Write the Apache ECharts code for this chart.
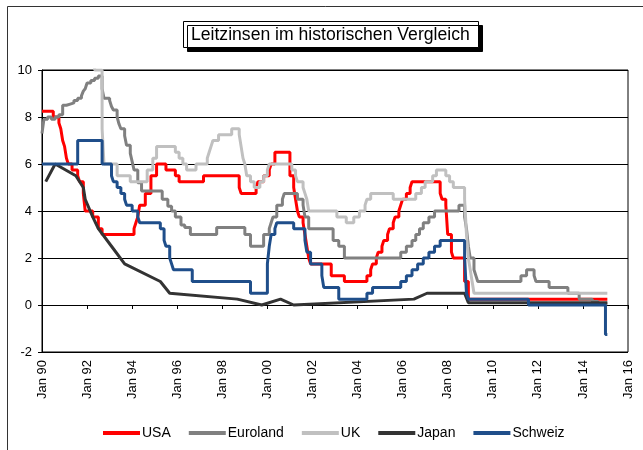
<!DOCTYPE html>
<html lang="de">
<head>
<meta charset="UTF-8">
<title>Leitzinsen im historischen Vergleich</title>
<script src="https://cdn.jsdelivr.net/npm/echarts@6/dist/echarts.min.js"></script>
<style>
  html, body { margin: 0; padding: 0; background: #fff; }
  #main { width: 643px; height: 450px; }
</style>
</head>
<body>
<div id="main"></div>
<script>
// Leitzinsen, Wertänderungen als [Monat, Zins in %]
const usa = [
  ['1990-01', 8.25], ['1990-07', 8.0], ['1990-10', 7.75], ['1990-11', 7.5], ['1990-12', 7.0],
  ['1991-01', 6.75], ['1991-02', 6.25], ['1991-03', 6.0], ['1991-05', 5.75], ['1991-08', 5.5],
  ['1991-09', 5.25], ['1991-11', 4.75], ['1991-12', 4.0], ['1992-04', 3.75], ['1992-07', 3.25],
  ['1992-09', 3.0], ['1994-02', 3.25], ['1994-03', 3.5], ['1994-04', 3.75], ['1994-05', 4.25],
  ['1994-08', 4.75], ['1994-11', 5.5], ['1995-02', 6.0], ['1995-07', 5.75], ['1995-12', 5.5],
  ['1996-02', 5.25], ['1997-03', 5.5], ['1998-10', 5.0], ['1998-11', 4.75], ['1999-07', 5.0],
  ['1999-08', 5.25], ['1999-11', 5.5], ['2000-02', 5.75], ['2000-03', 6.0], ['2000-05', 6.5],
  ['2001-01', 5.5], ['2001-03', 5.0], ['2001-04', 4.5], ['2001-05', 4.0], ['2001-06', 3.75],
  ['2001-08', 3.5], ['2001-09', 3.0], ['2001-10', 2.5], ['2001-11', 2.0], ['2001-12', 1.75],
  ['2002-11', 1.25], ['2003-06', 1.0], ['2004-06', 1.25], ['2004-08', 1.5], ['2004-09', 1.75],
  ['2004-11', 2.0], ['2004-12', 2.25], ['2005-02', 2.5], ['2005-03', 2.75], ['2005-05', 3.0],
  ['2005-06', 3.25], ['2005-08', 3.5], ['2005-09', 3.75], ['2005-11', 4.0], ['2005-12', 4.25],
  ['2006-01', 4.5], ['2006-03', 4.75], ['2006-05', 5.0], ['2006-06', 5.25], ['2007-09', 4.75],
  ['2007-10', 4.5], ['2007-12', 4.25], ['2008-01', 3.0], ['2008-03', 2.25], ['2008-04', 2.0],
  ['2008-10', 1.0], ['2008-12', 0.25], ['2015-02', 0.25]
];
const euroland = [
  ['1990-01', 7.3], ['1990-02', 7.9], ['1990-04', 8.0], ['1990-06', 7.9], ['1990-08', 8.0],
  ['1990-10', 8.1], ['1990-12', 8.5], ['1991-02', 8.55], ['1991-04', 8.6], ['1991-06', 8.7],
  ['1991-08', 8.8], ['1991-10', 8.9], ['1991-11', 9.1], ['1991-12', 9.2], ['1992-01', 9.45],
  ['1992-03', 9.55], ['1992-05', 9.65], ['1992-07', 9.75], ['1992-09', 9.2], ['1992-10', 8.8],
  ['1993-01', 8.7], ['1993-02', 8.45], ['1993-03', 8.3], ['1993-05', 8.0], ['1993-06', 7.7],
  ['1993-07', 7.5], ['1993-09', 7.2], ['1993-10', 6.8], ['1993-12', 6.45], ['1994-01', 6.1],
  ['1994-02', 5.75], ['1994-04', 5.2], ['1994-06', 4.85], ['1995-05', 4.5], ['1995-08', 4.2],
  ['1995-10', 4.0], ['1995-12', 3.75], ['1996-03', 3.4], ['1996-05', 3.3], ['1996-08', 3.0],
  ['1997-10', 3.3], ['1999-01', 3.0], ['1999-04', 2.5], ['1999-11', 3.0], ['2000-02', 3.25],
  ['2000-03', 3.5], ['2000-04', 3.75], ['2000-06', 4.25], ['2000-09', 4.5], ['2000-10', 4.75],
  ['2001-05', 4.5], ['2001-08', 4.25], ['2001-09', 3.75], ['2001-11', 3.25], ['2002-12', 2.75],
  ['2003-03', 2.5], ['2003-06', 2.0], ['2005-12', 2.25], ['2006-03', 2.5], ['2006-06', 2.75],
  ['2006-08', 3.0], ['2006-10', 3.25], ['2006-12', 3.5], ['2007-03', 3.75], ['2007-06', 4.0],
  ['2008-07', 4.25], ['2008-10', 3.75], ['2008-11', 3.25], ['2008-12', 2.5], ['2009-01', 2.0],
  ['2009-03', 1.5], ['2009-04', 1.25], ['2009-05', 1.0], ['2011-04', 1.25], ['2011-07', 1.5],
  ['2011-11', 1.25], ['2011-12', 1.0], ['2012-07', 0.75], ['2013-05', 0.5], ['2013-11', 0.25],
  ['2014-06', 0.15], ['2014-09', 0.05], ['2015-02', 0.05]
];
const uk = [
  ['1990-01', 15.0], ['1990-10', 14.0], ['1991-02', 13.0], ['1991-03', 12.5], ['1991-04', 12.0],
  ['1991-05', 11.5], ['1991-07', 11.0], ['1991-09', 10.5], ['1992-05', 10.0], ['1992-09', 7.5],
  ['1992-10', 6.0], ['1993-05', 5.5], ['1993-12', 5.25], ['1994-09', 5.75], ['1994-12', 6.25],
  ['1995-02', 6.75], ['1995-12', 6.5], ['1996-02', 6.25], ['1996-04', 6.0], ['1996-06', 5.75],
  ['1996-11', 6.0], ['1997-05', 6.25], ['1997-06', 6.5], ['1997-07', 6.75], ['1997-08', 7.0],
  ['1997-11', 7.25], ['1998-06', 7.5], ['1998-10', 7.25], ['1998-11', 6.75], ['1998-12', 6.25],
  ['1999-01', 6.0], ['1999-02', 5.5], ['1999-04', 5.25], ['1999-06', 5.0], ['1999-09', 5.25],
  ['1999-11', 5.5], ['2000-01', 5.75], ['2000-02', 6.0], ['2001-02', 5.75], ['2001-04', 5.5],
  ['2001-05', 5.25], ['2001-08', 5.0], ['2001-09', 4.75], ['2001-10', 4.5], ['2001-11', 4.0],
  ['2003-02', 3.75], ['2003-07', 3.5], ['2003-11', 3.75], ['2004-02', 4.0], ['2004-05', 4.25],
  ['2004-06', 4.5], ['2004-08', 4.75], ['2005-08', 4.5], ['2006-08', 4.75], ['2006-11', 5.0],
  ['2007-01', 5.25], ['2007-05', 5.5], ['2007-07', 5.75], ['2007-12', 5.5], ['2008-02', 5.25],
  ['2008-04', 5.0], ['2008-10', 4.5], ['2008-11', 3.0], ['2008-12', 2.0], ['2009-01', 1.5],
  ['2009-02', 1.0], ['2009-03', 0.5], ['2015-02', 0.5]
];
// Japan: nur Stützpunkte, gerade verbunden
const japan = [
  ['1990-03', 5.25], ['1990-08', 6.0], ['1991-07', 5.5], ['1991-11', 5.0], ['1991-12', 4.5],
  ['1992-04', 3.75], ['1992-07', 3.25], ['1993-02', 2.5], ['1993-09', 1.75], ['1995-04', 1.0],
  ['1995-09', 0.5], ['1998-09', 0.25], ['1999-10', 0.0], ['2000-08', 0.25], ['2001-03', 0.0],
  ['2006-07', 0.25], ['2007-02', 0.5], ['2008-10', 0.5], ['2008-12', 0.1], ['2015-02', 0.1]
];
const schweiz = [
  ['1990-01', 6.0], ['1991-08', 7.0], ['1992-09', 6.0], ['1993-02', 5.5], ['1993-03', 5.25],
  ['1993-05', 5.0], ['1993-07', 4.75], ['1993-09', 4.5], ['1993-10', 4.25], ['1994-01', 4.0],
  ['1994-04', 3.75], ['1994-05', 3.5], ['1995-04', 3.25], ['1995-06', 2.75], ['1995-07', 2.5],
  ['1995-09', 2.0], ['1995-10', 1.75], ['1995-11', 1.5], ['1996-09', 1.0], ['1999-04', 0.5],
  ['2000-01', 1.75], ['2000-02', 2.5], ['2000-03', 3.0], ['2000-05', 3.25], ['2000-06', 3.5],
  ['2001-03', 3.25], ['2001-09', 2.75], ['2001-10', 2.25], ['2001-12', 1.75], ['2002-06', 1.25],
  ['2002-07', 0.75], ['2003-03', 0.25], ['2004-06', 0.5], ['2004-09', 0.75], ['2005-12', 1.0],
  ['2006-03', 1.25], ['2006-06', 1.5], ['2006-09', 1.75], ['2006-12', 2.0], ['2007-03', 2.25],
  ['2007-06', 2.5], ['2007-09', 2.75], ['2008-10', 2.0], ['2008-11', 0.5], ['2008-12', 0.25],
  ['2011-08', 0.0], ['2015-01', -1.25], ['2015-02', -1.25]
];

const names = ['USA', 'Euroland', 'UK', 'Japan', 'Schweiz'];
const colors = ['#ff0000', '#808080', '#c0c0c0', '#333333', '#1f4e8a'];
const yTicks = { min: -2, max: 10, step: 2 };
const xYears = { min: 1990, max: 2016, step: 2 };

// 'YYYY-MM' -> Jahr als Dezimalzahl
function toYear(s) {
  const p = s.split('-');
  return +p[0] + (+p[1] - 1) / 12;
}
function points(list) {
  return list.map(d => [toYear(d[0]), d[1]]);
}

const font = "'Liberation Sans', Arial, sans-serif";
const chart = echarts.init(document.getElementById('main'), null, { renderer: 'canvas' });

const allData = [usa, euroland, uk, japan, schweiz];
const series = allData.map((d, i) => ({
  name: names[i],
  type: 'line',
  data: points(d),
  step: names[i] === 'Japan' ? false : 'end',
  showSymbol: false,
  symbol: 'none',
  xAxisIndex: 0,
  lineStyle: { color: colors[i], width: 3 },
  itemStyle: { color: colors[i] },
  emphasis: { disabled: true }
}));

const xLabel = v => 'Jan ' + String(v).slice(2);

chart.setOption({
  animation: false,
  backgroundColor: '#fff',
  textStyle: { fontFamily: font },
  title: {
    text: 'Leitzinsen im historischen Vergleich',
    left: 183,
    top: 21,
    padding: [5, 9, 4, 8],
    backgroundColor: '#fff',
    borderColor: '#000',
    borderWidth: 1,
    shadowColor: '#000',
    shadowBlur: 0,
    shadowOffsetX: 4,
    shadowOffsetY: 4,
    textStyle: { fontFamily: font, fontSize: 17.6, fontWeight: 'normal', color: '#000' }
  },
  graphic: [{
    type: 'rect',
    shape: { x: 7.5, y: 6.5, width: 700, height: 500 },
    style: { fill: 'none', stroke: '#333', lineWidth: 1 },
    silent: true,
    z: -10
  }],
  legend: {
    data: names,
    left: 98,
    top: 421,
    icon: 'rect',
    itemWidth: 37,
    itemHeight: 4,
    itemGap: 18,
    textStyle: { fontFamily: font, fontSize: 14, color: '#000', padding: [0, 0, 0, -3] },
    selectedMode: false
  },
  grid: {
    left: 42, top: 70, width: 586, height: 282,
    show: true, borderColor: '#000', borderWidth: 1, backgroundColor: '#fff'
  },
  xAxis: [{
    type: 'value',
    min: xYears.min, max: xYears.max, interval: xYears.step,
    axisLine: { onZero: true, lineStyle: { color: '#000', width: 1 } },
    axisTick: { show: true, length: 4, lineStyle: { color: '#000' } },
    axisLabel: { show: false },
    splitLine: { show: false }
  }, {
    type: 'value',
    position: 'bottom',
    min: xYears.min, max: xYears.max, interval: xYears.step,
    axisLine: { show: false, onZero: false },
    axisTick: { show: false },
    axisLabel: {
      rotate: 90, margin: 8, fontSize: 13, color: '#000', fontFamily: font,
      formatter: xLabel
    },
    splitLine: { show: false }
  }],
  yAxis: {
    type: 'value',
    min: yTicks.min, max: yTicks.max, interval: yTicks.step,
    axisLine: { show: true, lineStyle: { color: '#000' } },
    axisTick: { show: true, length: 4, lineStyle: { color: '#000' } },
    axisLabel: { fontSize: 13, color: '#000', margin: 10, fontFamily: font },
    splitLine: { show: true, lineStyle: { color: '#000', width: 1 } }
  },
  series: series
});
</script>
</body>
</html>
